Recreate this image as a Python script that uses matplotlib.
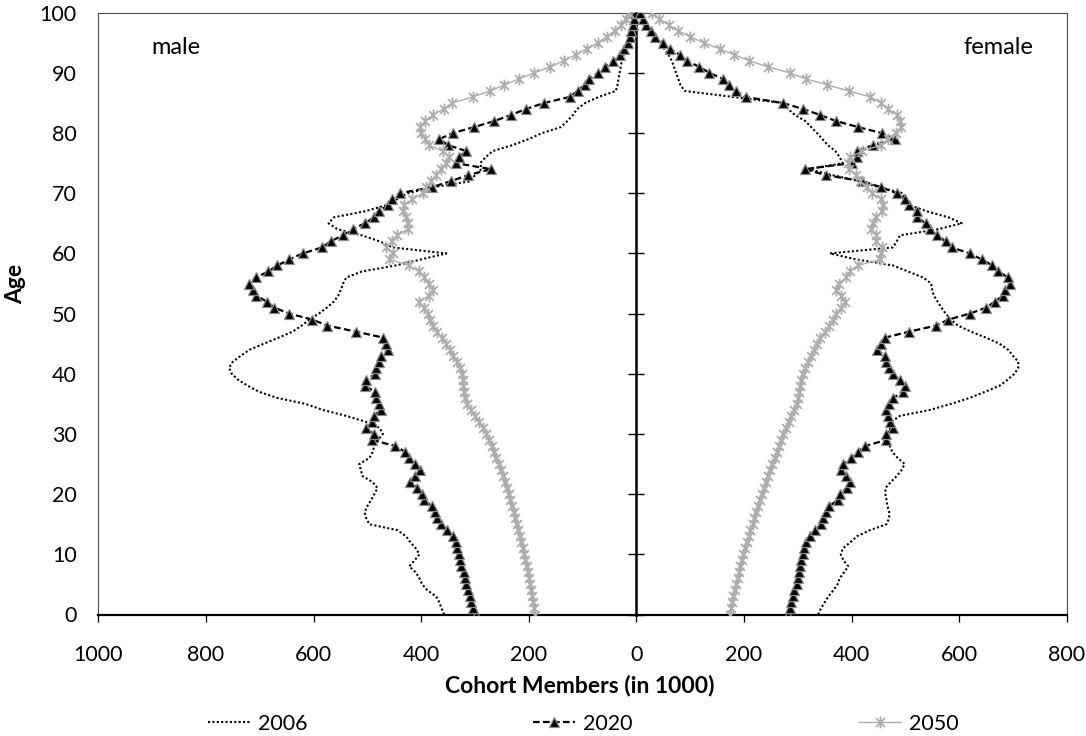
import matplotlib
matplotlib.use("Agg")
import matplotlib.pyplot as plt
from matplotlib.path import Path
from matplotlib.ticker import FuncFormatter
import numpy as np

plt.rcParams['font.family'] = ['Lato', 'DejaVu Sans']

# ---------------- data (thousands of persons, by age 0..100) ----------------
ages = list(range(101))

male_2006 = [357,362,366,372,388,398,403,410,422,412,
             403,410,420,428,444,496,502,505,500,493,
             487,481,490,509,512,515,496,490,487,480,
             471,477,502,539,583,615,668,701,722,740,
             752,757,750,735,719,692,665,639,622,608,
             590,575,562,554,549,545,539,510,447,400,
             353,453,477,510,555,572,562,505,465,445,
             425,378,307,300,288,290,280,267,230,200,
             175,140,128,118,110,95,70,38,35,33,
             31,29,27,24,21,18,14,10,7,4,
             2]

male_2020 = [298,303,307,310,313,316,318,321,325,327,
             330,333,336,340,352,363,370,375,380,395,
             399,407,420,411,402,412,422,429,448,491,
             488,502,491,488,474,479,483,485,505,502,
             485,483,478,474,462,466,470,521,574,602,
             645,673,687,707,713,719,707,684,667,645,
             620,584,568,546,527,505,487,479,462,455,
             440,380,345,313,270,335,330,316,350,366,
             341,301,264,233,205,171,124,109,96,87,
             71,59,43,31,22,16,12,9,6,4,
             3]

male_2050 = [189,190,192,194,196,198,200,202,204,206,
             208,211,214,217,220,222,225,228,231,234,
             236,240,244,248,252,256,260,264,268,273,
             279,285,292,300,308,314,318,320,322,323,
             324,328,334,340,346,353,362,370,378,383,
             388,394,404,385,378,386,394,404,422,459,
             453,465,455,444,425,425,428,434,431,416,
             397,390,382,372,363,354,348,360,385,393,
             400,402,392,378,358,342,304,272,245,218,
             190,160,135,113,92,71,55,40,28,20,
             14]

female_2006 = [338,343,350,357,366,374,378,386,394,385,
               380,384,398,410,434,465,470,470,467,465,
               463,463,473,484,493,499,486,476,471,470,
               470,472,474,490,546,585,620,648,675,690,
               703,710,710,700,691,675,650,622,598,585,
               575,567,560,553,550,548,533,505,477,409,
               360,477,484,490,560,605,580,540,508,500,
               496,450,415,365,320,384,378,370,356,346,
               336,325,314,295,282,272,180,90,82,78,
               74,70,66,60,52,42,32,22,14,8,
               4]

female_2020 = [282,285,288,291,294,298,301,303,305,307,
               310,311,316,322,332,344,347,353,358,375,
               378,391,397,389,380,385,399,412,425,465,
               465,478,472,468,465,470,478,495,499,490,
               477,470,465,462,448,455,462,507,557,580,
               620,650,667,682,685,695,691,673,662,642,
               620,586,575,559,546,538,522,521,507,500,
               484,455,420,353,313,400,410,410,440,481,
               456,412,371,342,310,272,203,185,172,161,
               136,117,94,81,63,50,34,28,18,12,
               6]

female_2050 = [174,176,178,180,183,186,189,191,193,196,
               198,202,205,209,212,216,219,223,226,230,
               233,237,241,245,249,253,257,261,265,269,
               273,278,283,288,293,298,301,303,305,307,
               309,314,319,324,330,335,342,350,358,365,
               372,381,388,381,372,376,390,397,412,453,
               455,456,446,446,437,440,446,456,458,455,
               438,428,415,408,396,393,398,420,455,468,
               482,492,491,485,468,455,435,395,355,315,
               285,245,210,182,155,125,100,78,60,42,
               30]

series_labels = ['2006', '2020', '2050']
x_ticks = list(range(-1000, 801, 200))
y_ticks = list(range(0, 101, 10))

# ---------------- figure ----------------
W, H = 1086, 736
fig = plt.figure(figsize=(W / 100, H / 100), dpi=100)
left, right, top, bottom = 98.3, 1066.7, 12.7, 614.5
ax = fig.add_axes([left / W, 1 - bottom / H, (right - left) / W, (bottom - top) / H])

star = Path([(0, -1), (0, 1), (-0.75, -0.75), (0.75, 0.75), (-0.75, 0.75), (0.75, -0.75)],
            [Path.MOVETO, Path.LINETO] * 3)

GRAY = '#adadad'
for sign, d06, d20, d50 in [(-1, male_2006, male_2020, male_2050),
                            (1, female_2006, female_2020, female_2050)]:
    lab = sign > 0
    ax.plot(sign * np.array(d06), ages, color='black', lw=1.5, ls=(0, (1, 1.1)),
            label=series_labels[0] if lab else None, zorder=2)
    ax.plot(sign * np.array(d20), ages, color='black', lw=1.6, ls=(0, (3, 1.5)),
            marker='^', ms=6.8, mfc='black', mec='#8a8a8a', mew=0.9,
            label=series_labels[1] if lab else None, zorder=3)
    ax.plot(sign * np.array(d50), ages, color=GRAY, lw=1.0, marker=star, ms=8.5,
            mfc='none', mec=GRAY, mew=1.3,
            label=series_labels[2] if lab else None, zorder=4)

ax.set_xlim(-1000, 800)
ax.set_ylim(0, 100)
ax.set_xticks(x_ticks)
ax.set_yticks(y_ticks)
ax.xaxis.set_major_formatter(FuncFormatter(lambda v, p: f"{abs(int(round(v)))}"))

for s in ['top', 'left', 'right']:
    ax.spines[s].set_color('#4a4a4a')
    ax.spines[s].set_linewidth(0.8)
ax.spines['bottom'].set_color('black')
ax.spines['bottom'].set_linewidth(1.6)

ax.tick_params(axis='x', direction='out', length=5, width=0.9, color='black',
               labelsize=15.5, pad=17)
ax.tick_params(axis='y', length=0, labelsize=15.5, pad=15.5)

# central vertical axis at x = 0 with crossing ticks
sec = ax.secondary_yaxis(1000 / 1800)
sec.set_yticks(y_ticks)
sec.tick_params(axis='y', direction='inout', length=11, width=1.0, color='black',
                labelleft=False, labelright=False)
for s in sec.spines.values():
    s.set_linewidth(1.8)
    s.set_color('black')

# texts
fig.text(176 / W, 1 - 48 / H, 'male', ha='center', va='center', fontsize=17)
fig.text(998 / W, 1 - 48 / H, 'female', ha='center', va='center', fontsize=17)
fig.text(580 / W, 1 - 686 / H, 'Cohort Members (in 1000)', ha='center', va='center',
         fontsize=16.5, fontweight='bold')
fig.text(16 / W, 1 - 284 / H, 'Age', ha='center', va='center', rotation=90,
         fontsize=16.5, fontweight='bold')

fig.legend(loc='center', bbox_to_anchor=(583 / W, 1 - 724 / H), ncol=3, frameon=False,
           fontsize=15.5, handlelength=1.95, handletextpad=0.37, columnspacing=10.5,
           borderpad=0)

fig.savefig('out.png', dpi=100)
